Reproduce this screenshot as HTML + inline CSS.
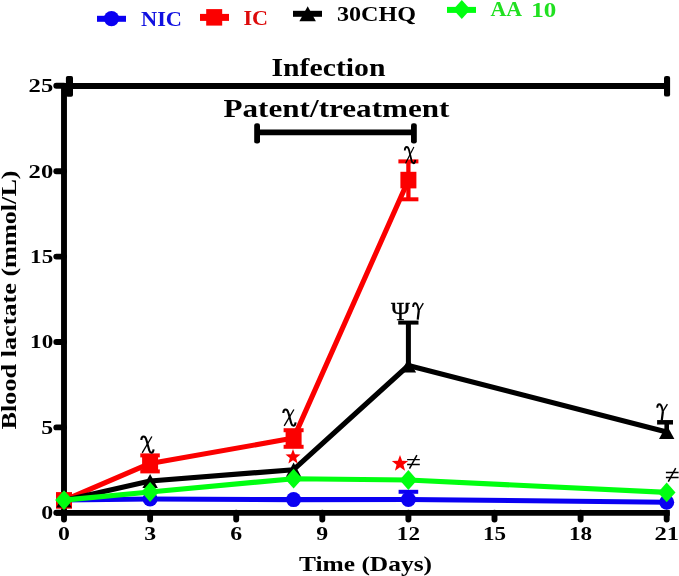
<!DOCTYPE html>
<html><head><meta charset="utf-8"><style>
html,body{margin:0;padding:0;background:#fff;overflow:hidden}
svg{display:block;will-change:transform}
</style></head><body>
<svg width="679" height="576" viewBox="0 0 679 576">
<g stroke="#000" stroke-width="5.6" fill="none">
<line x1="64" y1="84" x2="64" y2="515.5" stroke-width="5.9"/>
<line x1="56" y1="512.9" x2="669.8" y2="512.9" stroke-width="5.7"/>
</g><g stroke="#000" stroke-width="5.9" fill="none" stroke-linecap="round">
<line x1="56.3" y1="512.8" x2="64" y2="512.8"/>
<line x1="56.3" y1="427.4" x2="64" y2="427.4"/>
<line x1="56.3" y1="342.0" x2="64" y2="342.0"/>
<line x1="56.3" y1="256.6" x2="64" y2="256.6"/>
<line x1="56.3" y1="171.2" x2="64" y2="171.2"/>
<line x1="56.3" y1="85.8" x2="64" y2="85.8"/>
<line x1="64.0" y1="512.8" x2="64.0" y2="519.5"/>
<line x1="150.1" y1="512.8" x2="150.1" y2="519.5"/>
<line x1="236.2" y1="512.8" x2="236.2" y2="519.5"/>
<line x1="322.3" y1="512.8" x2="322.3" y2="519.5"/>
<line x1="408.4" y1="512.8" x2="408.4" y2="519.5"/>
<line x1="494.5" y1="512.8" x2="494.5" y2="519.5"/>
<line x1="580.6" y1="512.8" x2="580.6" y2="519.5"/>
<line x1="666.7" y1="512.8" x2="666.7" y2="519.5"/>
</g>
<g stroke="#000" fill="none">
<line x1="64" y1="86" x2="667" y2="86" stroke-width="5.8"/>
<rect x="65.9" y="76" width="7.1" height="20.8" rx="1.8" fill="#000" stroke="none"/>
<rect x="664" y="75.9" width="6.1" height="20.7" rx="2.2" fill="#000" stroke="none"/>
<line x1="257" y1="132.4" x2="414" y2="132.4" stroke-width="5.6"/>
<rect x="254.2" y="123.2" width="5.8" height="20.4" rx="2.4" fill="#000" stroke="none"/>
<rect x="411" y="123.2" width="5.8" height="20.4" rx="2.4" fill="#000" stroke="none"/>
</g>
<polyline points="64.0,500.0 150.1,499.0 293.6,499.6 408.4,499.5 666.7,502.2" fill="none" stroke="#0a00f2" stroke-width="5.1" stroke-linejoin="round"/>
<line x1="408.4" y1="499.5" x2="408.4" y2="491.8" stroke="#0a00f2" stroke-width="4.3"/><line x1="398.6" y1="491.8" x2="418.2" y2="491.8" stroke="#0a00f2" stroke-width="4"/>
<circle cx="64.0" cy="500.0" r="7.5" fill="#0a00f2"/>
<circle cx="150.1" cy="499.0" r="7.5" fill="#0a00f2"/>
<circle cx="293.6" cy="499.6" r="7.5" fill="#0a00f2"/>
<circle cx="408.4" cy="499.5" r="7.5" fill="#0a00f2"/>
<circle cx="666.7" cy="502.2" r="7.5" fill="#0a00f2"/>
<polyline points="64.0,500.4 150.1,463.4 293.6,438.1 408.4,180.1" fill="none" stroke="#fb0000" stroke-width="5.1" stroke-linejoin="round"/>
<line x1="150.1" y1="463.4" x2="150.1" y2="455.4" stroke="#fb0000" stroke-width="4.3"/><line x1="140.3" y1="455.4" x2="159.8" y2="455.4" stroke="#fb0000" stroke-width="4"/>
<line x1="150.1" y1="463.4" x2="150.1" y2="471.4" stroke="#fb0000" stroke-width="4.3"/><line x1="140.3" y1="471.4" x2="159.8" y2="471.4" stroke="#fb0000" stroke-width="4"/>
<line x1="293.6" y1="438.1" x2="293.6" y2="430.2" stroke="#fb0000" stroke-width="4.3"/><line x1="283.6" y1="430.2" x2="303.6" y2="430.2" stroke="#fb0000" stroke-width="4"/>
<line x1="293.6" y1="438.1" x2="293.6" y2="446.8" stroke="#fb0000" stroke-width="4.3"/><line x1="283.6" y1="446.8" x2="303.6" y2="446.8" stroke="#fb0000" stroke-width="4"/>
<line x1="408.4" y1="180.1" x2="408.4" y2="161.4" stroke="#fb0000" stroke-width="4.3"/><line x1="398.4" y1="161.4" x2="418.4" y2="161.4" stroke="#fb0000" stroke-width="4"/>
<line x1="408.4" y1="180.1" x2="408.4" y2="199.3" stroke="#fb0000" stroke-width="4.3"/><line x1="398.4" y1="199.3" x2="418.4" y2="199.3" stroke="#fb0000" stroke-width="4"/>
<rect x="56.0" y="492.1" width="16" height="16.6" fill="#fb0000"/>
<rect x="142.1" y="455.1" width="16" height="16.6" fill="#fb0000"/>
<rect x="285.6" y="429.8" width="16" height="16.6" fill="#fb0000"/>
<rect x="400.4" y="171.8" width="16" height="16.6" fill="#fb0000"/>
<polyline points="64.0,500.5 150.1,481.0 293.6,469.7 408.4,365.5 666.7,432.0" fill="none" stroke="#000" stroke-width="5.1" stroke-linejoin="round"/>
<line x1="408.4" y1="365.5" x2="408.4" y2="322.6" stroke="#000" stroke-width="5"/><line x1="398.2" y1="322.6" x2="418.5" y2="322.6" stroke="#000" stroke-width="4"/>
<line x1="666.7" y1="432.0" x2="666.7" y2="422.3" stroke="#000" stroke-width="4.6"/><line x1="657.1" y1="422.3" x2="673.0" y2="422.3" stroke="#000" stroke-width="4.5"/>
<polygon points="64.0,493.4 71.7,507.6 56.3,507.6" fill="#000"/>
<polygon points="150.1,473.9 157.8,488.1 142.4,488.1" fill="#000"/>
<polygon points="293.6,462.6 301.3,476.8 285.9,476.8" fill="#000"/>
<polygon points="408.4,358.4 416.1,372.6 400.7,372.6" fill="#000"/>
<polygon points="666.7,424.9 674.4,439.1 659.0,439.1" fill="#000"/>
<polyline points="64.0,500.1 150.1,492.0 293.6,478.7 408.4,480.0 666.7,492.4" fill="none" stroke="#00ff10" stroke-width="5.1" stroke-linejoin="round"/>
<polygon points="64.0,490.2 72.8,500.1 64.0,510.1 55.2,500.1" fill="#00ff10"/>
<polygon points="150.1,482.1 158.9,492.0 150.1,501.9 141.3,492.0" fill="#00ff10"/>
<polygon points="293.6,468.8 302.4,478.7 293.6,488.6 284.8,478.7" fill="#00ff10"/>
<polygon points="408.4,470.1 417.2,480.0 408.4,489.9 399.6,480.0" fill="#00ff10"/>
<polygon points="666.7,482.4 675.5,492.4 666.7,502.3 657.9,492.4" fill="#00ff10"/>
<line x1="97" y1="18.8" x2="126" y2="18.8" stroke="#0a00f2" stroke-width="6"/><circle cx="111.5" cy="18.6" r="7.7" fill="#0a00f2"/>
<line x1="200" y1="17.4" x2="229" y2="17.4" stroke="#fb0000" stroke-width="7"/><rect x="206.2" y="9.1" width="16" height="16.5" fill="#fb0000"/>
<line x1="293" y1="13.8" x2="322" y2="13.8" stroke="#000" stroke-width="6"/><polygon points="307.7,6.2 315.9,21.2 299.4,21.2" fill="#000"/>
<line x1="447" y1="9.9" x2="476" y2="9.9" stroke="#00ff10" stroke-width="6"/><polygon points="461.8,0.1 470.4,9.6 461.8,19.1 453.2,9.6" fill="#00ff10"/>
<g font-family="Liberation Serif" font-weight="bold">
<text x="141" y="25.5" font-size="20.5" fill="#1010e0" text-anchor="start" textLength="41" lengthAdjust="spacingAndGlyphs">NIC</text>
<text x="243.5" y="24.7" font-size="20.6" fill="#dd0a0a" text-anchor="start" textLength="24.6" lengthAdjust="spacingAndGlyphs">IC</text>
<text x="337" y="20.6" font-size="20.5" fill="#000" text-anchor="start" textLength="79" lengthAdjust="spacingAndGlyphs">30CHQ</text>
<text x="490.5" y="16.3" font-size="20.5" fill="#20e020" text-anchor="start" textLength="31.5" lengthAdjust="spacingAndGlyphs">AA</text>
<text x="531.3" y="16.5" font-size="20.5" fill="#20e020" text-anchor="start" textLength="25" lengthAdjust="spacingAndGlyphs">10</text>
<text x="271.5" y="75.8" font-size="25" fill="#000" text-anchor="start" textLength="114" lengthAdjust="spacingAndGlyphs">Infection</text>
<text x="223.5" y="116.6" font-size="25" fill="#000" text-anchor="start" textLength="226" lengthAdjust="spacingAndGlyphs">Patent/treatment</text>
<text x="299" y="570.5" font-size="21" fill="#000" text-anchor="start" textLength="133" lengthAdjust="spacingAndGlyphs">Time (Days)</text>
<text x="53.2" y="519.2" font-size="18.3" fill="#000" text-anchor="end" textLength="11.9" lengthAdjust="spacingAndGlyphs">0</text>
<text x="53.2" y="433.8" font-size="18.3" fill="#000" text-anchor="end" textLength="11.9" lengthAdjust="spacingAndGlyphs">5</text>
<text x="53.2" y="348.4" font-size="18.3" fill="#000" text-anchor="end" textLength="23.1" lengthAdjust="spacingAndGlyphs">10</text>
<text x="53.2" y="263.0" font-size="18.3" fill="#000" text-anchor="end" textLength="23.1" lengthAdjust="spacingAndGlyphs">15</text>
<text x="53.2" y="177.6" font-size="18.3" fill="#000" text-anchor="end" textLength="24.6" lengthAdjust="spacingAndGlyphs">20</text>
<text x="53.2" y="92.2" font-size="18.3" fill="#000" text-anchor="end" textLength="24.6" lengthAdjust="spacingAndGlyphs">25</text>
<text x="64.0" y="539.8" font-size="18.3" fill="#000" text-anchor="middle" textLength="11.9" lengthAdjust="spacingAndGlyphs">0</text>
<text x="150.1" y="539.8" font-size="18.3" fill="#000" text-anchor="middle" textLength="11.9" lengthAdjust="spacingAndGlyphs">3</text>
<text x="236.2" y="539.8" font-size="18.3" fill="#000" text-anchor="middle" textLength="11.9" lengthAdjust="spacingAndGlyphs">6</text>
<text x="322.3" y="539.8" font-size="18.3" fill="#000" text-anchor="middle" textLength="11.9" lengthAdjust="spacingAndGlyphs">9</text>
<text x="408.4" y="539.8" font-size="18.3" fill="#000" text-anchor="middle" textLength="23.1" lengthAdjust="spacingAndGlyphs">12</text>
<text x="494.5" y="539.8" font-size="18.3" fill="#000" text-anchor="middle" textLength="23.1" lengthAdjust="spacingAndGlyphs">15</text>
<text x="580.6" y="539.8" font-size="18.3" fill="#000" text-anchor="middle" textLength="23.1" lengthAdjust="spacingAndGlyphs">18</text>
<text x="666.7" y="539.8" font-size="18.3" fill="#000" text-anchor="middle" textLength="24.6" lengthAdjust="spacingAndGlyphs">21</text>
<text transform="translate(15.6,429.4) rotate(-90)" font-size="21" textLength="259" lengthAdjust="spacingAndGlyphs">Blood lactate (mmol/L)</text>
</g>
<g transform="translate(141,436.2) scale(1.0,1.0)" fill="none" stroke="#000"><path d="M0.35,3.9 C0.35,1.5 1.3,0.35 2.6,0.35 C4.2,0.35 4.9,1.8 5.5,4 L8.3,14.3 C8.8,16 9.6,16.5 10.5,16.5 C11.6,16.5 12.3,15.5 12.6,13.2" stroke-width="2.1"/><path d="M10.9,0.3 L1.2,16.6" stroke-width="1.35"/></g>
<g transform="translate(283,409.2) scale(1.0,1.0)" fill="none" stroke="#000"><path d="M0.35,3.9 C0.35,1.5 1.3,0.35 2.6,0.35 C4.2,0.35 4.9,1.8 5.5,4 L8.3,14.3 C8.8,16 9.6,16.5 10.5,16.5 C11.6,16.5 12.3,15.5 12.6,13.2" stroke-width="2.1"/><path d="M10.9,0.3 L1.2,16.6" stroke-width="1.35"/></g>
<g transform="translate(404.5,146.7) scale(0.86,1.0)" fill="none" stroke="#000"><path d="M0.35,3.9 C0.35,1.5 1.3,0.35 2.6,0.35 C4.2,0.35 4.9,1.8 5.5,4 L8.3,14.3 C8.8,16 9.6,16.5 10.5,16.5 C11.6,16.5 12.3,15.5 12.6,13.2" stroke-width="2.1"/><path d="M10.9,0.3 L1.2,16.6" stroke-width="1.35"/></g>
<text x="391" y="319.6" font-family="Liberation Serif" font-size="25.5" fill="#000" stroke="#000" stroke-width="0.35">Ψ</text>
<g transform="translate(412.8,302.9) scale(1.0,1.03)" fill="none" stroke="#000"><path d="M0.35,3.9 C0.35,1.6 1.2,0.35 2.4,0.35 C3.8,0.35 4.6,1.7 5.3,4.6 L5.9,7.6" stroke-width="1.9"/><path d="M10.5,0.3 L5.9,7.8" stroke-width="1.35"/><path d="M6.0,7.4 L4.9,16.2" stroke-width="2.2"/></g>
<g transform="translate(656.9,403.9) scale(1.0,1.0)" fill="none" stroke="#000"><path d="M0.35,3.9 C0.35,1.6 1.2,0.35 2.4,0.35 C3.8,0.35 4.6,1.7 5.3,4.6 L5.9,7.6" stroke-width="1.9"/><path d="M10.5,0.3 L5.9,7.8" stroke-width="1.35"/><path d="M6.0,7.4 L4.9,16.2" stroke-width="2.2"/></g>
<g transform="translate(407.1,459.6)" fill="none" stroke="#000" stroke-width="1.45"><path d="M0,0 H12.7 M0,4.9 H12.7"/><path d="M9.8,-4.4 L2.4,9.1" stroke-width="1.5"/></g>
<g transform="translate(665.9,472.5)" fill="none" stroke="#000" stroke-width="1.45"><path d="M0,0 H12.7 M0,4.9 H12.7"/><path d="M9.8,-4.4 L2.4,9.1" stroke-width="1.5"/></g>
<polygon points="293.00,449.10 294.95,454.32 300.51,454.56 296.16,458.03 297.64,463.39 293.00,460.32 288.36,463.39 289.84,458.03 285.49,454.56 291.05,454.32" fill="#fb0000"/>
<polygon points="400.00,455.10 402.12,460.78 408.18,461.04 403.44,464.82 405.05,470.66 400.00,467.31 394.95,470.66 396.56,464.82 391.82,461.04 397.88,460.78" fill="#fb0000"/>
</svg></body></html>
